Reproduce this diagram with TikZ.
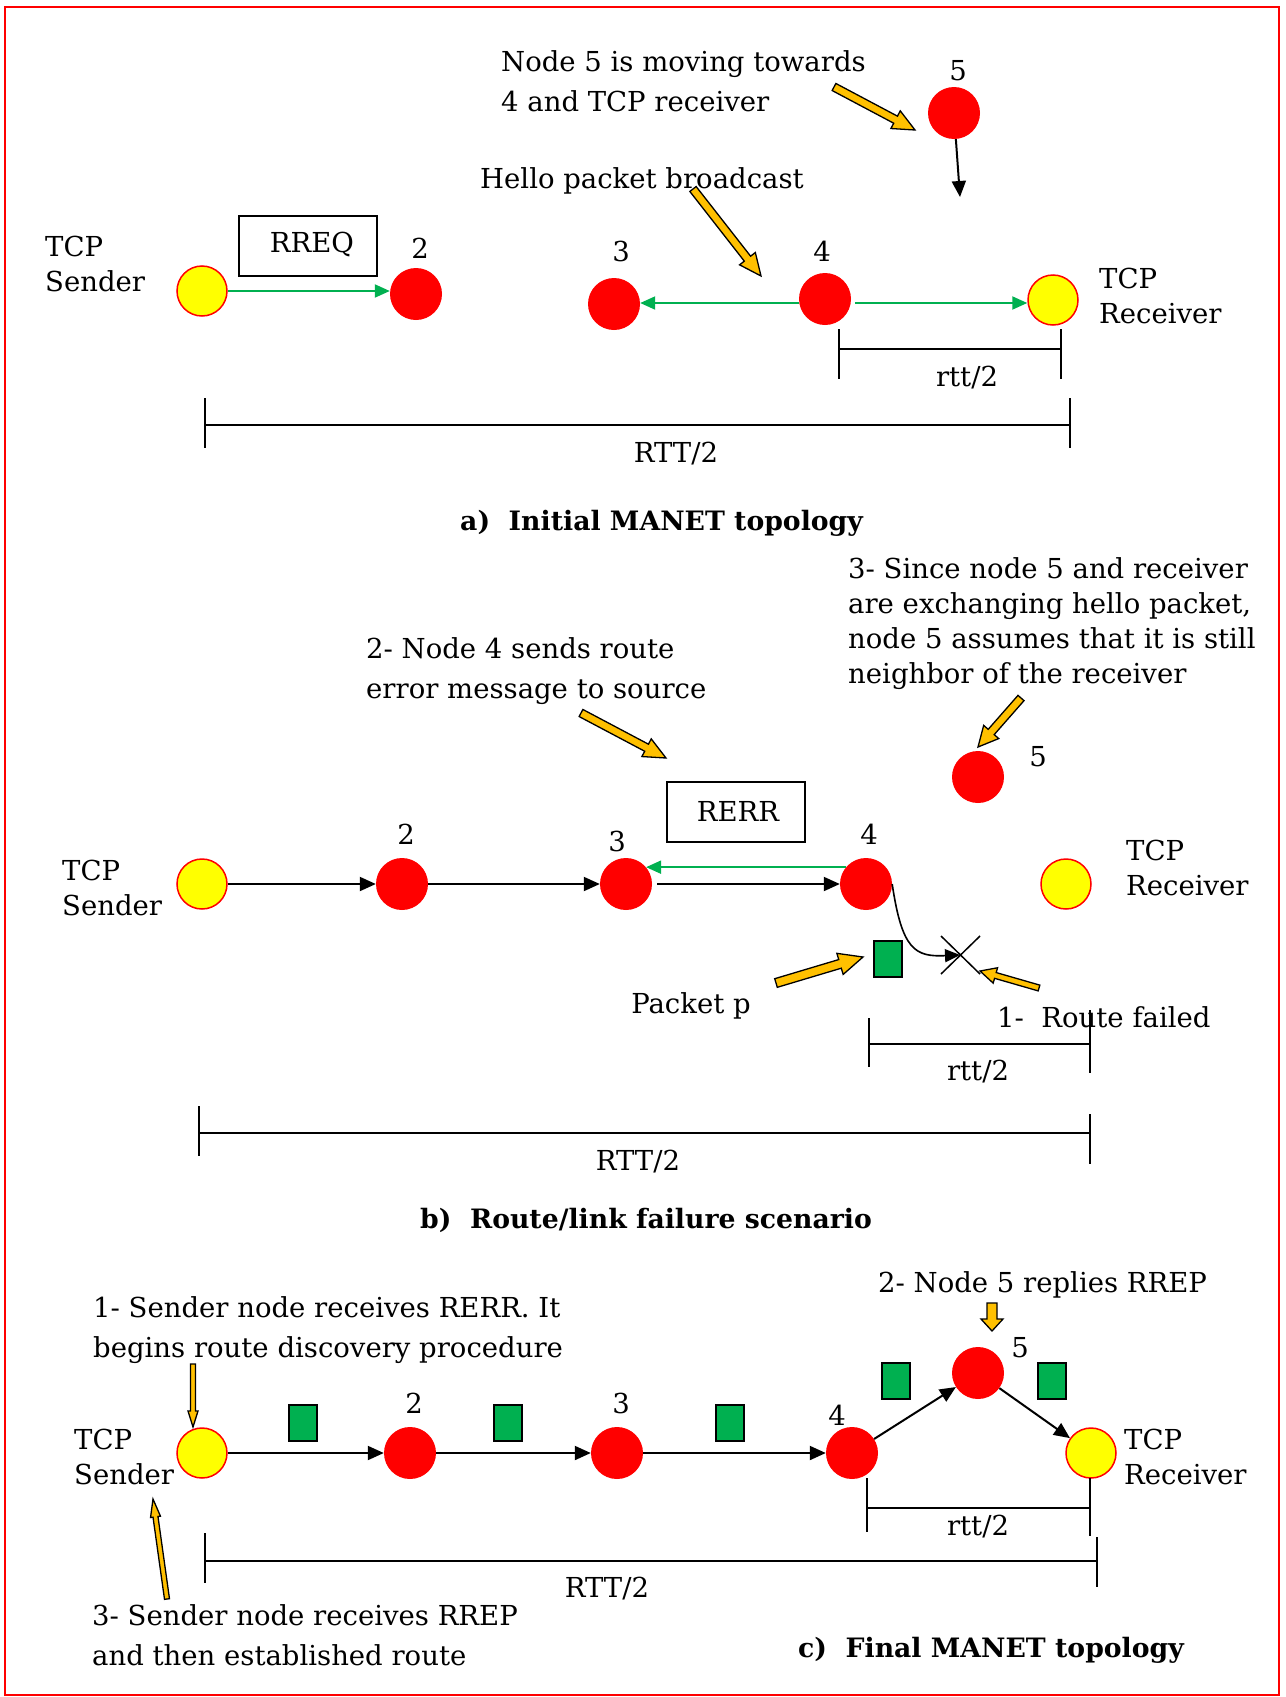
\documentclass[tikz,border=0pt]{standalone}
\usepackage{fontspec}
\setmainfont{DejaVu Serif}
\usetikzlibrary{arrows.meta,calc}

\definecolor{nodered}{RGB}{255,0,0}
\definecolor{nodeyellow}{RGB}{255,255,0}
\definecolor{linkgreen}{RGB}{0,176,80}
\definecolor{callout}{RGB}{255,192,0}

\tikzset{
  txt/.style={inner sep=0pt, font=\fontsize{27.5}{40}\selectfont, align=left},
  txtt/.style={inner sep=0pt, font=\fontsize{27.5}{35}\selectfont, align=left},
  captxt/.style={inner sep=0pt, font=\fontsize{26.7}{30}\selectfont\bfseries},
  rnode/.style={circle, fill=nodered, draw=none, minimum size=52pt, inner sep=0pt},
  ynode/.style={circle, fill=nodeyellow, draw=nodered, line width=1.5pt, minimum size=50pt, inner sep=0pt},
  boxlbl/.style={draw, line width=1.6pt, minimum width=138pt, minimum height=60pt, inner sep=0pt},
  pkt/.style={rectangle, fill=linkgreen, draw=black, line width=1.5pt, minimum width=28pt, minimum height=36pt, inner sep=0pt},
  blk/.style={draw=black, line width=2pt, -{Triangle[length=16pt,width=14pt]}},
  grn/.style={draw=linkgreen, line width=2pt, -{Triangle[length=15pt,width=13pt]}},
  tick/.style={draw=black, line width=1.5pt},
  span/.style={draw=black, line width=2.2pt},
  blockarr/.style={fill=callout, draw=black, line width=1.3pt, line join=miter},
}

% filled callout arrow: start, end, half shaft width, half head width, head length
\newcommand\blockarrow[5]{%
  \coordinate (ba-neck) at ($(#2)!#5!(#1)$);
  \filldraw[blockarr] ($(#1)!#3!90:(#2)$) -- ($(ba-neck)!#3!90:(#2)$)
    -- ($(ba-neck)!#4!90:(#2)$) -- (#2) -- ($(ba-neck)!#4!-90:(#2)$)
    -- ($(ba-neck)!#3!-90:(#2)$) -- ($(#1)!#3!-90:(#2)$) -- cycle;
}

\begin{document}
\begin{tikzpicture}[x=1pt,y=-1pt]
\useasboundingbox (0,0) rectangle (1285,1697);
\draw[nodered, line width=1.5pt] (5,7) rectangle (1279,1695);

% ---------------- a) initial topology ----------------
\node[txt, anchor=west] (amove) at (501,81) {Node 5 is moving towards\\4 and TCP receiver};
\node[txt, anchor=west] (ahello) at (480,181) {Hello packet broadcast};
\node[txtt, anchor=west] (asnd) at (45,264) {TCP\\Sender};
\node[txtt, anchor=west] (arcv) at (1099,296) {TCP\\Receiver};

\node[ynode] (as) at (202,291) {};
\node[rnode] (a2) at (416,294) {};
\node[rnode] (a3) at (614,304) {};
\node[rnode] (a4) at (825,299) {};
\node[ynode] (ar) at (1053,300) {};
\node[rnode] (a5) at (954,113) {};

\node[txt] (a2l) at (420,248) {2};
\node[txt] (a3l) at (621,251) {3};
\node[txt] (a4l) at (822,251) {4};
\node[txt] (a5l) at (958,71) {5};

\node[boxlbl] (rreq) at (308,246) {};
\node[txt] (rreqt) at (312,244) {RREQ};

\draw[grn] (as.east) -- (a2.west |- as.east);
\draw[grn] (a4.west |- 0,303) -- (a3.east |- 0,303);
\draw[grn, shorten <=4pt] (a4.east |- 0,303) -- (ar.west |- 0,303);

\coordinate (a5to) at (960,197);
\draw[blk] (a5) -- (a5to);

\coordinate (ca1s) at (834,87);  \coordinate (ca1e) at (915,130);
\blockarrow{ca1s}{ca1e}{4pt}{10pt}{22pt}
\coordinate (ca2s) at (693,189); \coordinate (ca2e) at (761,276);
\blockarrow{ca2s}{ca2e}{4pt}{10pt}{22pt}

% round-trip spans
\coordinate (ar1) at (839,329); \coordinate (ar2) at (1061,329);
\draw[tick] (ar1) -- ++(0,50);
\draw[tick] (ar2) -- ++(0,50);
\draw[span] (839,349) -- (1061,349);
\node[txt] (artt) at (967,378) {rtt/2};
\draw[tick] (205,398) -- (205,448);
\draw[tick] (1070,398) -- (1070,448);
\draw[span] (205,425) -- (1070,425);
\node[txt] (aRTT) at (676,454) {RTT/2};

\node[captxt, anchor=west] (acap) at (460,523) {a)\ \ Initial MANET topology};

% ---------------- b) route failure ----------------
\node[txtt, anchor=west] (bsince) at (848,624) {3- Since node 5 and receiver\\are exchanging hello packet,\\node 5 assumes that it is still\\neighbor of the receiver};
\node[txt, anchor=west] (berr) at (366,671) {2- Node 4 sends route\\error message to source};
\node[txtt, anchor=west] (bsnd) at (62,888) {TCP\\Sender};
\node[txtt, anchor=west] (brcv) at (1126,868) {TCP\\Receiver};

\node[ynode] (bs) at (202,884) {};
\node[rnode] (b2) at (402,884) {};
\node[rnode] (b3) at (626,884) {};
\node[rnode] (b4) at (866,884) {};
\node[ynode] (br) at (1066,884) {};
\node[rnode] (b5) at (978,777) {};

\node[txt] (b2l) at (406,834) {2};
\node[txt] (b3l) at (617,841) {3};
\node[txt] (b4l) at (869,834) {4};
\node[txt] (b5l) at (1038,757) {5};

\node[boxlbl] (rerr) at (736,812) {};
\node[txt] (rerrt) at (738,811) {RERR};

\draw[blk] (bs) -- (b2);
\draw[blk] (b2) -- (b3);
\draw[blk, shorten <=5pt] (b3) -- (b4);
\draw[grn] (b4.140) -- (b3.40);

\coordinate (fail) at (960,955);
\draw[draw=black, line width=1.6pt, -{Triangle[length=15pt,width=13pt]}]
  (b4.east) .. controls (902,950) and (915,957) .. (fail);
\draw[line width=1.5pt] (941,936) -- (980,974);
\draw[line width=1.5pt] (941,974) -- (980,936);

\node[pkt] (pp) at (888,959) {};
\node[txt] (ppl) at (691,1006) {Packet p};
\node[txt, anchor=west] (bfail) at (997,1017) {1-\ \ Route failed};

\coordinate (cb1s) at (581,713);  \coordinate (cb1e) at (666,758);
\blockarrow{cb1s}{cb1e}{4pt}{10pt}{22pt}
\coordinate (cb2s) at (1021,698); \coordinate (cb2e) at (978,747);
\blockarrow{cb2s}{cb2e}{4pt}{10pt}{20pt}
\coordinate (cb3s) at (776,983);  \coordinate (cb3e) at (863,957);
\blockarrow{cb3s}{cb3e}{4.5pt}{11pt}{24pt}
\coordinate (cb4s) at (1039,988); \coordinate (cb4e) at (980,971);
\blockarrow{cb4s}{cb4e}{3pt}{8pt}{16pt}

\draw[tick] (869,1018) -- (869,1067);
\draw[tick] (1090,1010) -- (1090,1073);
\draw[span] (869,1044) -- (1090,1044);
\node[txt] (brtt) at (978,1072) {rtt/2};
\draw[tick] (199,1106) -- (199,1156);
\draw[tick] (1090,1114) -- (1090,1164);
\draw[span] (199,1133) -- (1090,1133);
\node[txt] (bRTT) at (638,1162) {RTT/2};

\node[captxt, anchor=west] (bcap) at (420,1220) {b)\ \ Route/link failure scenario};

% ---------------- c) final topology ----------------
\node[txt, anchor=west] (crep) at (878,1285) {2- Node 5 replies RREP};
\node[txt, anchor=west] (crerr) at (93,1330) {1- Sender node receives RERR. It\\begins route discovery procedure};
\node[txtt, anchor=west] (csnd) at (74,1457) {TCP\\Sender};
\node[txtt, anchor=west] (crcv) at (1124,1457) {TCP\\Receiver};
\node[txt, anchor=west] (cest) at (92,1635) {3- Sender node receives RREP\\and then established route};

\node[ynode] (cs) at (202,1453) {};
\node[rnode] (c2) at (410,1453) {};
\node[rnode] (c3) at (617,1453) {};
\node[rnode] (c4) at (852,1453) {};
\node[rnode] (c5) at (978,1373) {};
\node[ynode] (cr) at (1091,1453) {};

\node[txt] (c2l) at (414,1403) {2};
\node[txt] (c3l) at (621,1403) {3};
\node[txt] (c4l) at (837,1415) {4};
\node[txt] (c5l) at (1020,1348) {5};

\node[pkt] (cp1) at (303,1423) {};
\node[pkt] (cp2) at (508,1423) {};
\node[pkt] (cp3) at (730,1423) {};
\node[pkt] (cp4) at (896,1381) {};
\node[pkt] (cp5) at (1052,1381) {};

\draw[blk] (cs) -- (c2);
\draw[blk] (c2) -- (c3);
\draw[blk] (c3) -- (c4);
\draw[blk] (c4) -- (c5);
\draw[blk] (c5) -- (cr);

\coordinate (cc1s) at (992,1303); \coordinate (cc1e) at (992,1331);
\blockarrow{cc1s}{cc1e}{5pt}{11pt}{12pt}
\coordinate (cc2s) at (193,1364); \coordinate (cc2e) at (193,1427);
\blockarrow{cc2s}{cc2e}{2.5pt}{5pt}{16pt}
\coordinate (cc3s) at (167,1599); \coordinate (cc3e) at (153,1499);
\blockarrow{cc3s}{cc3e}{2.5pt}{5pt}{18pt}

\draw[tick] (867,1478) -- (867,1532);
\draw[tick] (1090,1478) -- (1090,1536);
\draw[span] (867,1508) -- (1090,1508);
\node[txt] (crtt) at (978,1527) {rtt/2};
\draw[tick] (205,1533) -- (205,1583);
\draw[tick] (1097,1537) -- (1097,1587);
\draw[span] (205,1561) -- (1097,1561);
\node[txt] (cRTT) at (607,1589) {RTT/2};

\node[captxt, anchor=west] (ccap) at (798,1650) {c)\ \ Final MANET topology};
\end{tikzpicture}
\end{document}
